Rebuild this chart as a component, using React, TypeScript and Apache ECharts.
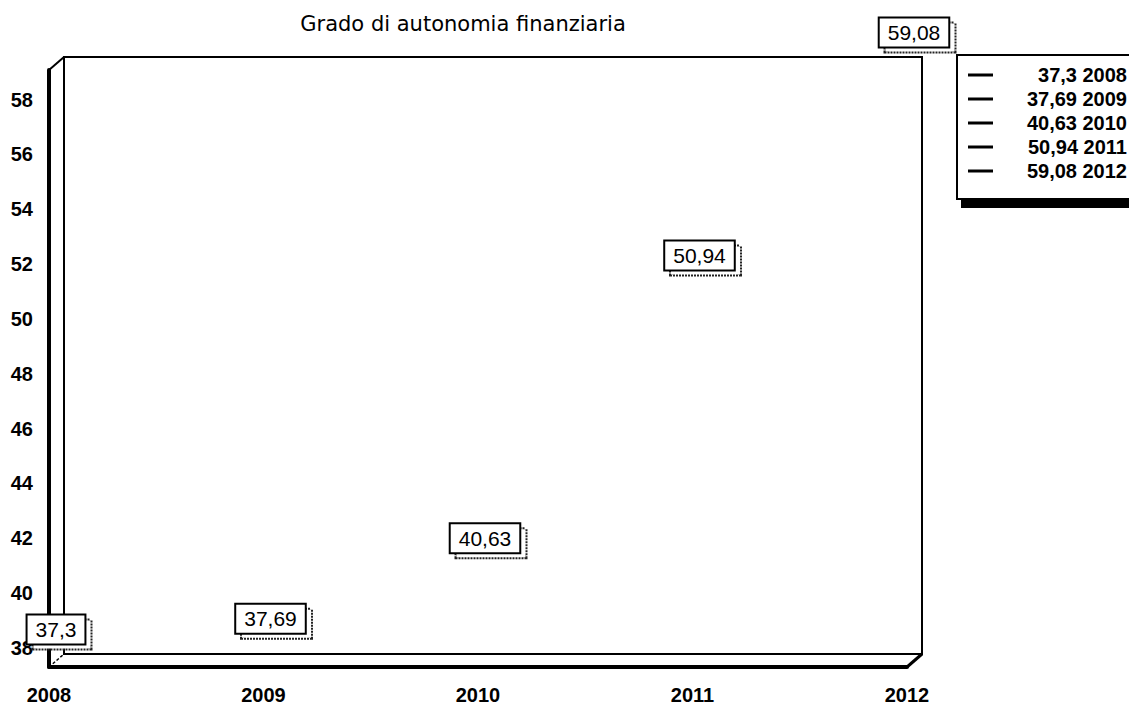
import React, { useEffect, useRef } from 'react';
import * as echarts from 'echarts';

// ---- data ----
const years: string[] = ['2008', '2009', '2010', '2011', '2012'];
const values: number[] = [37.3, 37.69, 40.63, 50.94, 59.08];
const chartTitle = 'Grado di autonomia finanziaria';

const fmt = (v: number) => String(v).replace('.', ',');

// ---- layout ----
const W = 1129;
const H = 705;
const G = { left: 49, top: 70, width: 858, height: 597 };
const DEPTH = { dx: 15, dy: -13 };
const FONT = '"Liberation Sans", Arial, Helvetica, sans-serif';
const LABEL_SIZE = 21;

function measure(text: string): number {
  const c = document.createElement('canvas');
  const ctx = c.getContext('2d');
  if (!ctx) return text.length * LABEL_SIZE * 0.55;
  ctx.font = `${LABEL_SIZE}px "Liberation Sans", Arial, sans-serif`;
  return Math.ceil(ctx.measureText(text).width);
}

export default function App() {
  const ref = useRef<HTMLDivElement>(null);

  useEffect(() => {
    if (!ref.current) return;
    const chart = echarts.init(ref.current, null, { renderer: 'svg' });
    const names = values.map((v, i) => `${fmt(v)} ${years[i]}`);

    const boxLabel = {
      show: true,
      position: 'top',
      distance: 23,
      fontFamily: FONT,
      fontSize: LABEL_SIZE,
      lineHeight: 22,
      padding: [3, 8, 3, 8],
    };

    const series: any[] = values.map((v, i) => ({
      type: 'scatter',
      name: names[i],
      data: [[years[i], v]],
      symbolSize: 1,
      clip: false,
      z: 5,
      itemStyle: { color: 'rgba(0,0,0,0)', opacity: 1 },
      label: {
        ...boxLabel,
        offset: [7, 0],
        formatter: () => fmt(v),
        color: '#000',
        backgroundColor: '#fff',
        borderColor: '#000',
        borderWidth: 2,
      },
    }));

    // offset "shadow" boxes behind each value label
    values.forEach((v, i) => {
      series.push({
        type: 'scatter',
        name: `__shadow${i}`,
        data: [[years[i], v]],
        symbolSize: 1,
        clip: false,
        silent: true,
        z: 4,
        itemStyle: { color: 'rgba(0,0,0,0)', opacity: 1 },
        label: {
          ...boxLabel,
          offset: [13, 5],
          formatter: '{s|}',
          rich: { s: { width: measure(fmt(v)), height: 22 } },
          backgroundColor: '#fff',
          borderColor: '#222',
          borderWidth: 2,
          borderType: [2, 1],
        },
      });
    });

    const bx = G.left + DEPTH.dx;
    const by = G.top + DEPTH.dy;

    chart.setOption({
      animation: false,
      backgroundColor: '#fff',
      grid: { left: G.left, top: G.top, width: G.width, height: G.height, containLabel: false },
      xAxis: {
        type: 'category',
        data: years,
        boundaryGap: false,
        axisLine: { show: true, lineStyle: { color: '#000', width: 4 } },
        axisTick: { show: false },
        splitLine: { show: false },
        axisLabel: {
          margin: 18,
          color: '#000',
          fontFamily: FONT,
          fontSize: 20,
          fontWeight: 'bold',
        },
      },
      yAxis: {
        type: 'value',
        min: 'dataMin',
        max: 'dataMax',
        splitNumber: 11,
        axisLine: { show: true, lineStyle: { color: '#000', width: 4 } },
        axisTick: { show: false },
        splitLine: { show: false },
        axisLabel: {
          showMinLabel: false,
          showMaxLabel: false,
          margin: 16,
          color: '#000',
          fontFamily: FONT,
          fontSize: 20,
          fontWeight: 'bold',
          formatter: (v: number) => (Number.isInteger(v) ? String(v) : ''),
        },
      },
      legend: {
        data: names,
        orient: 'vertical',
        left: 957,
        top: 55,
        selectedMode: false,
        backgroundColor: '#fff',
        borderColor: '#000',
        borderWidth: 2,
        shadowColor: '#000',
        shadowBlur: 0,
        shadowOffsetX: 5,
        shadowOffsetY: 8,
        padding: [10, 30, 18, 11],
        itemGap: 4,
        itemWidth: 25,
        itemHeight: 3,
        icon: 'rect',
        itemStyle: { color: '#000', opacity: 1 },
        formatter: (name: string) => `{t|${name}}`,
        textStyle: {
          rich: {
            t: {
              width: 129,
              align: 'right',
              fontFamily: FONT,
              fontSize: 20,
              fontWeight: 'bold',
              lineHeight: 20,
              color: '#000',
            },
          },
        },
      },
      graphic: [
        {
          type: 'polygon',
          z: 0,
          silent: true,
          shape: {
            points: [
              [bx, by],
              [bx + G.width, by],
              [bx + G.width, by + G.height],
              [bx, by + G.height],
            ],
          },
          style: { fill: 'none', stroke: '#000', lineWidth: 2 },
        },
        {
          type: 'line',
          silent: true,
          shape: { x1: G.left, y1: G.top, x2: bx, y2: by },
          style: { stroke: '#000', lineWidth: 2 },
        },
        {
          type: 'line',
          silent: true,
          shape: { x1: G.left + G.width, y1: G.top + G.height, x2: bx + G.width, y2: by + G.height },
          style: { stroke: '#000', lineWidth: 3 },
        },
        {
          type: 'line',
          silent: true,
          shape: { x1: G.left, y1: G.top + G.height, x2: bx, y2: by + G.height },
          style: { stroke: '#000', lineWidth: 1.5, lineDash: [3, 2] },
        },
        {
          type: 'text',
          silent: true,
          x: 463,
          y: 24,
          style: {
            text: chartTitle,
            align: 'center',
            verticalAlign: 'middle',
            fontFamily: '"DejaVu Sans", Verdana, sans-serif',
            fontSize: 21,
            fill: '#000',
          },
        },
      ],
      series,
    });

    return () => chart.dispose();
  }, []);

  return (
    <div
      ref={ref}
      style={{ position: 'absolute', left: 0, top: 0, width: W, height: H, background: '#fff' }}
    />
  );
}
